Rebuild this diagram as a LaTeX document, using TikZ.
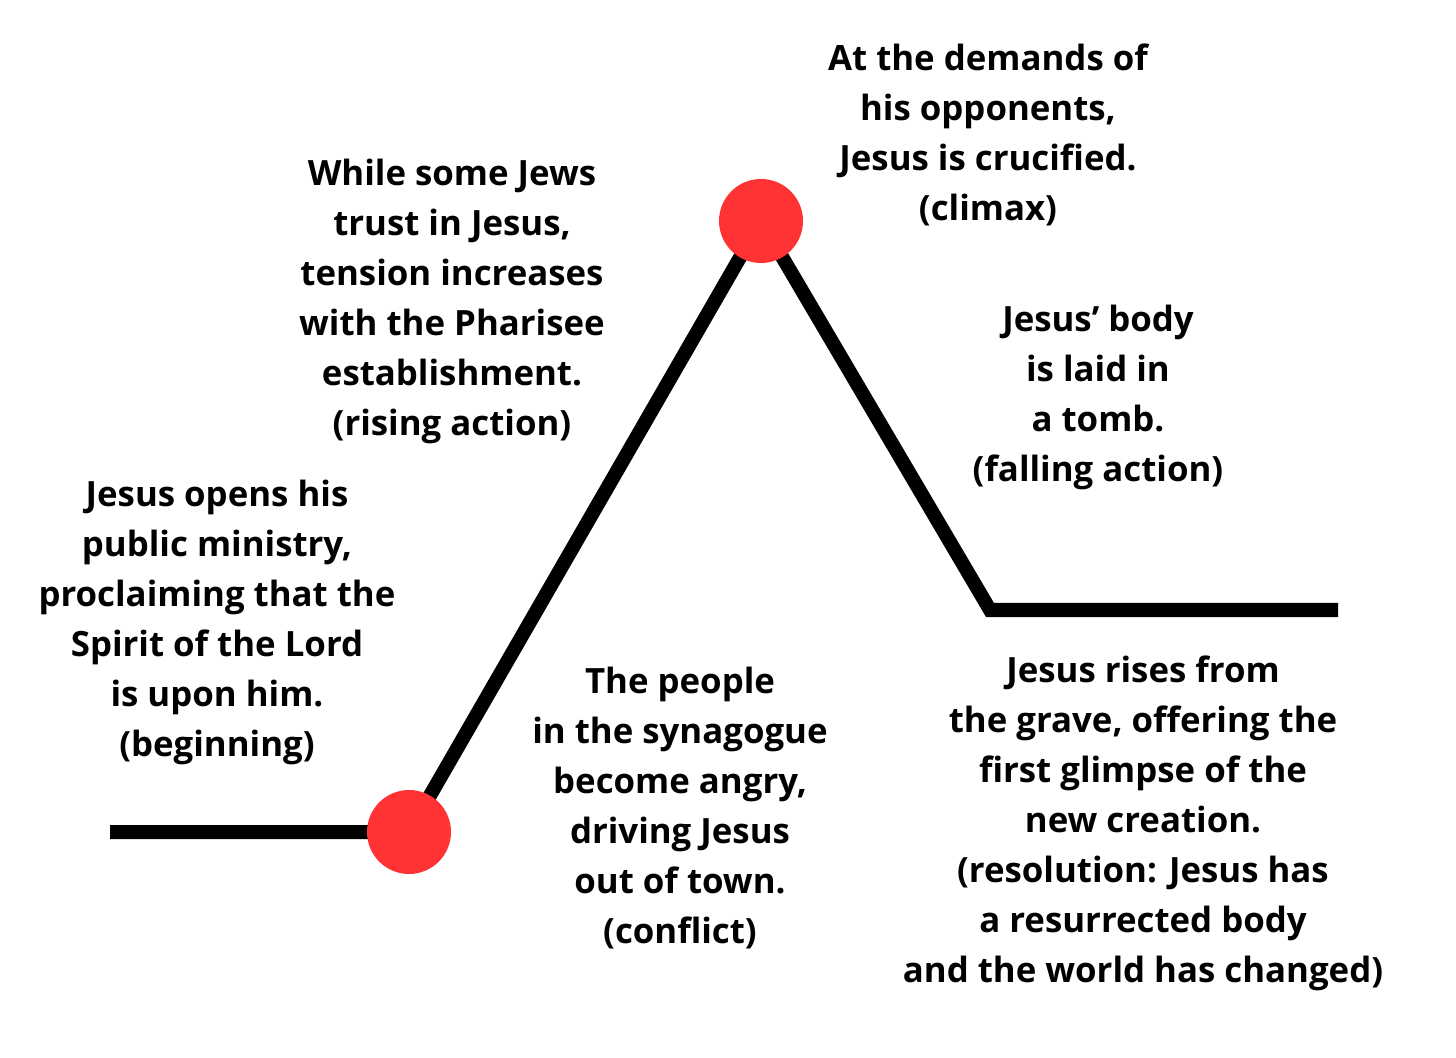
\documentclass[tikz,border=0pt]{standalone}
\usepackage{fontspec}
\setmainfont{Open Sans}
\definecolor{dotred}{HTML}{FF3333}
\begin{document}
\begin{tikzpicture}[x=0.5pt,y=-0.5pt,
  txt/.style={align=center,font=\fontsize{17.4}{25}\selectfont\bfseries,inner sep=0pt,anchor=north},
  dot/.style={circle,fill=dotred,minimum size=42pt,inner sep=0pt},
  plot/.style={line width=7pt,black}]
\useasboundingbox (0,0) rectangle (1456,1058);
\coordinate (start) at (110,832);
\coordinate (valley) at (990,610);
\coordinate (finish) at (1338,610);
\coordinate (p1) at (409,832);
\coordinate (p2) at (761,221);
\draw[plot] (start) -- (p1) -- (p2) -- (valley) -- (finish);
\node[dot] (conflictdot) at (p1) {};
\node[dot] (climaxdot) at (p2) {};
\node[txt] (climax) at (988,43) {At the demands of\\his opponents,\\Jesus is crucified.\\(climax)};
\node[txt] (rising) at (452,159) {While some Jews\\trust in Jesus,\\tension increases\\with the Pharisee\\establishment.\\(rising action)};
\node[txt] (falling) at (1098,305) {Jesus’ body\\is laid in\\a tomb.\\(falling action)};
\node[txt] (beginning) at (217,480) {Jesus opens his\\public ministry,\\proclaiming that the\\Spirit of the Lord\\is upon him.\\(beginning)};
\node[txt] (conflict) at (680,667) {The people\\in the synagogue\\become angry,\\driving Jesus\\out of town.\\(conflict)};
\node[txt] (resolution) at (1143,655) {Jesus rises from\\the grave, offering the\\first glimpse of the\\new creation.\\(resolution: Jesus has\\a resurrected body\\and the world has changed)};
\end{tikzpicture}
\end{document}
